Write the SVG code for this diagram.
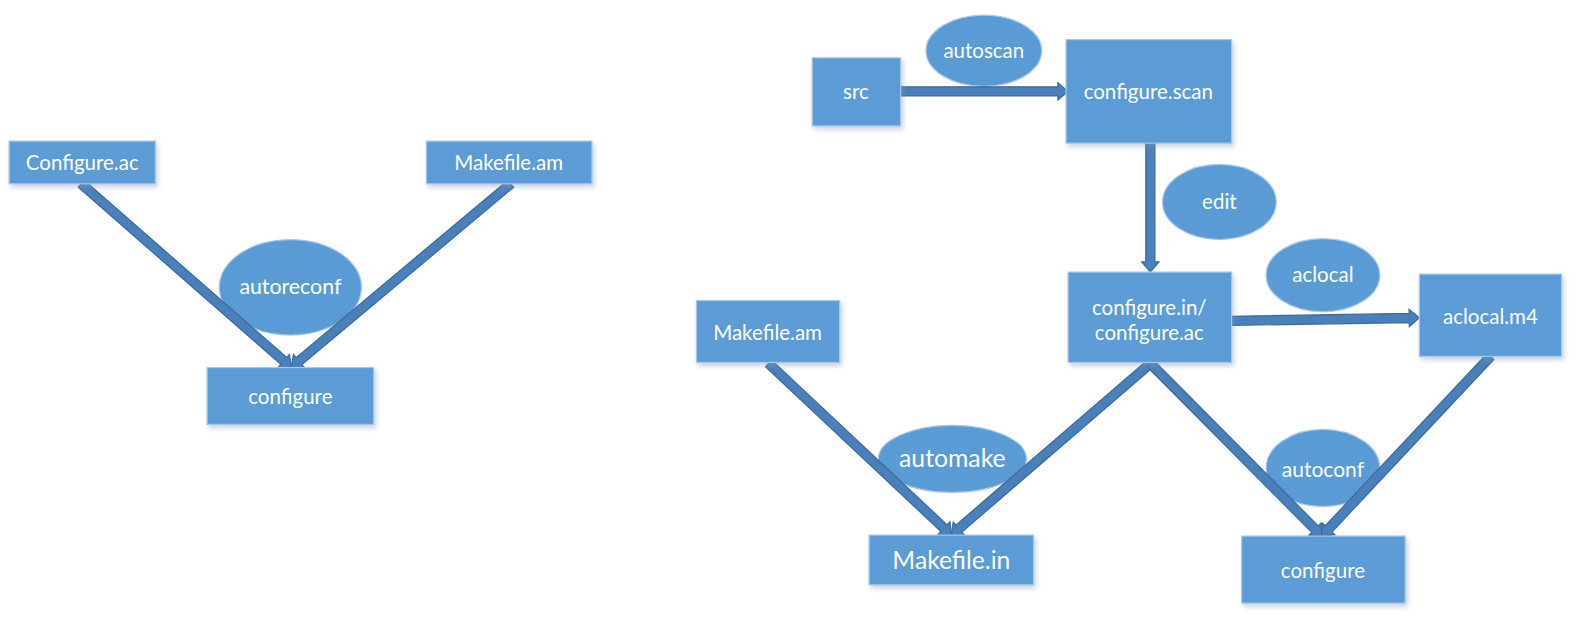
<svg xmlns="http://www.w3.org/2000/svg" width="1592" height="626" viewBox="0 0 1592 626">
<defs>
<filter id="sh" x="-10%" y="-10%" width="130%" height="140%">
<feDropShadow dx="2" dy="3" stdDeviation="2.5" flood-color="#7f9fbf" flood-opacity="0.45"/>
</filter>
</defs>
<style>
.box{fill:#5b9bd5;stroke:#a9c6e6;stroke-width:1.2;filter:url(#sh)}
.ell{fill:#5b9bd5;stroke:#a9c6e6;stroke-width:1.2}
.t{fill:#ffffff;font-family:Lato,"Open Sans","Liberation Sans",sans-serif;font-size:20.2px;text-anchor:middle;dominant-baseline:central}
.arr{fill:#4a7fba;stroke:#3d6a99;stroke-width:1.2;stroke-linejoin:miter}
</style>
<rect width="1592" height="626" fill="#ffffff"/>
<g transform="scale(1.0153)">
<g id="ellipses">
<g id="autoreconf"><ellipse class="ell" cx="286" cy="283" rx="70" ry="47"/><text class="t" x="286" y="282" style="font-size:21px">autoreconf</text></g>
<g id="autoscan"><ellipse class="ell" cx="969" cy="50" rx="57" ry="35"/><text class="t" x="969" y="49">autoscan</text></g>
<g id="edit"><ellipse class="ell" cx="1201" cy="199" rx="56" ry="37"/><text class="t" x="1201" y="198">edit</text></g>
<g id="aclocal"><ellipse class="ell" cx="1303" cy="271" rx="56" ry="36"/><text class="t" x="1303" y="270">aclocal</text></g>
<g id="automake"><ellipse class="ell" cx="938" cy="452" rx="73" ry="33"/><text class="t" x="938" y="451" style="font-size:24.4px">automake</text></g>
<g id="autoconf"><ellipse class="ell" cx="1303" cy="461" rx="56" ry="38"/><text class="t" x="1303" y="461" style="font-size:20.7px">autoconf</text></g>
</g>
<g id="connectors">
<polygon class="arr" transform="translate(80,181) rotate(41.17)" points="0,-4.5 265,-4.5 265,-8.5 275,0 265,8.5 265,4.5 0,4.5"/>
<polygon class="arr" transform="translate(503,181) rotate(140.04)" points="0,-4.5 272,-4.5 272,-8.5 282,0 272,8.5 272,4.5 0,4.5"/>
<polygon class="arr" transform="translate(887,90) rotate(0)" points="0,-4.5 155,-4.5 155,-8.5 165,0 155,8.5 155,4.5 0,4.5"/>
<polygon class="arr" transform="translate(1133,141) rotate(90)" points="0,-4.5 117,-4.5 117,-8.5 127,0 117,8.5 117,4.5 0,4.5"/>
<polygon class="arr" transform="translate(1213,316) rotate(-0.93)" points="0,-4.5 175,-4.5 175,-8.5 185,0 175,8.5 175,4.5 0,4.5"/>
<polygon class="arr" transform="translate(757,358) rotate(43.19)" points="0,-4.5 237,-4.5 237,-8.5 247,0 237,8.5 237,4.5 0,4.5"/>
<polygon class="arr" transform="translate(1133,358) rotate(139.22)" points="0,-4.5 249,-4.5 249,-8.5 259,0 249,8.5 249,4.5 0,4.5"/>
<polygon class="arr" transform="translate(1133,358) rotate(45.17)" points="0,-4.5 230,-4.5 230,-8.5 240,0 230,8.5 230,4.5 0,4.5"/>
<polygon class="arr" transform="translate(1468,351) rotate(133.17)" points="0,-4.5 233,-4.5 233,-8.5 243,0 233,8.5 233,4.5 0,4.5"/>
</g>
<g id="configure_ac_left"><rect class="box" x="9" y="139" width="144" height="42"/><text class="t" x="81" y="160">Configure.ac</text></g>
<g id="makefile_am_left"><rect class="box" x="420" y="139" width="163" height="42"/><text class="t" x="501" y="160">Makefile.am</text></g>
<g id="configure_left"><rect class="box" x="204" y="362" width="164" height="56"/><text class="t" x="286" y="390">configure</text></g>
<g id="src"><rect class="box" x="800" y="57" width="87" height="67"/><text class="t" x="843" y="90">src</text></g>
<g id="configure_scan"><rect class="box" x="1050" y="39" width="163" height="102"/><text class="t" x="1131" y="90">configure.scan</text></g>
<g id="configure_in"><rect class="box" x="1052" y="268" width="161" height="89"/><text class="t" x="1132" y="302">configure.in/</text><text class="t" x="1132" y="327">configure.ac</text></g>
<g id="aclocal_m4"><rect class="box" x="1398" y="270" width="140" height="81"/><text class="t" x="1468" y="311">aclocal.m4</text></g>
<g id="makefile_am"><rect class="box" x="686" y="296" width="141" height="61"/><text class="t" x="756" y="327">Makefile.am</text></g>
<g id="makefile_in"><rect class="box" x="856" y="527" width="162" height="49"/><text class="t" x="937" y="551" style="font-size:24.3px">Makefile.in</text></g>
<g id="configure_right"><rect class="box" x="1223" y="528" width="161" height="66"/><text class="t" x="1303" y="561">configure</text></g>
</g>
</svg>
